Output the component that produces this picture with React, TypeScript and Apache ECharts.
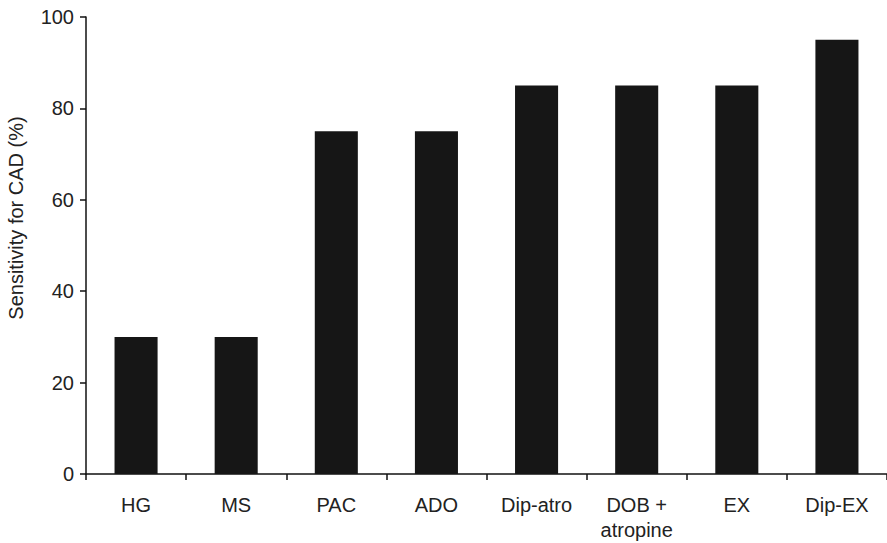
import React, { useEffect, useRef } from "react";
import * as echarts from "echarts";

const categories = ["HG", "MS", "PAC", "ADO", "Dip-atro", "DOB +\natropine", "EX", "Dip-EX"];
const sensitivity = [30, 30, 75, 75, 85, 85, 85, 95];
const yTicks = [0, 20, 40, 60, 80, 100];
const yTitle = "Sensitivity for CAD (%)";

const FONT = "Liberation Sans, Arial, sans-serif";

export default function App() {
  const ref = useRef<HTMLDivElement>(null);
  useEffect(() => {
    if (!ref.current) return;
    const chart = echarts.init(ref.current, undefined, { renderer: "svg" });
    chart.setOption({
      animation: false,
      grid: { left: 86, top: 17, bottom: 69, right: -4, containLabel: false },
      graphic: [
        {
          type: "text",
          x: 16,
          y: 218,
          rotation: Math.PI / 2,
          style: {
            text: yTitle,
            fill: "#222",
            fontSize: 20,
            fontFamily: FONT,
            align: "center",
            verticalAlign: "middle",
          },
        },
      ],
      xAxis: {
        type: "category",
        data: categories,
        axisLine: { lineStyle: { color: "#111", width: 1.5 } },
        axisTick: { show: true, alignWithLabel: false, length: 6, lineStyle: { color: "#111", width: 1.5 } },
        axisLabel: {
          color: "#222",
          fontSize: 20,
          fontFamily: FONT,
          margin: 18,
          lineHeight: 25,
          interval: 0,
        },
      },
      yAxis: {
        type: "value",
        min: yTicks[0],
        max: yTicks[yTicks.length - 1],
        interval: 20,
        splitLine: { show: false },
        axisLine: { show: true, lineStyle: { color: "#111", width: 1.5 } },
        axisTick: { show: true, length: 6, lineStyle: { color: "#111", width: 1.5 } },
        axisLabel: {
          color: "#222",
          fontSize: 20,
          fontFamily: FONT,
          margin: 12,
        },
      },
      series: [
        {
          type: "bar",
          data: sensitivity,
          barWidth: "43%",
          itemStyle: { color: "#161616" },
        },
      ],
    });
    return () => chart.dispose();
  }, []);
  return (
    <div
      ref={ref}
      style={{ position: "absolute", left: 0, top: 0, width: 887, height: 543, background: "#fff" }}
    />
  );
}
